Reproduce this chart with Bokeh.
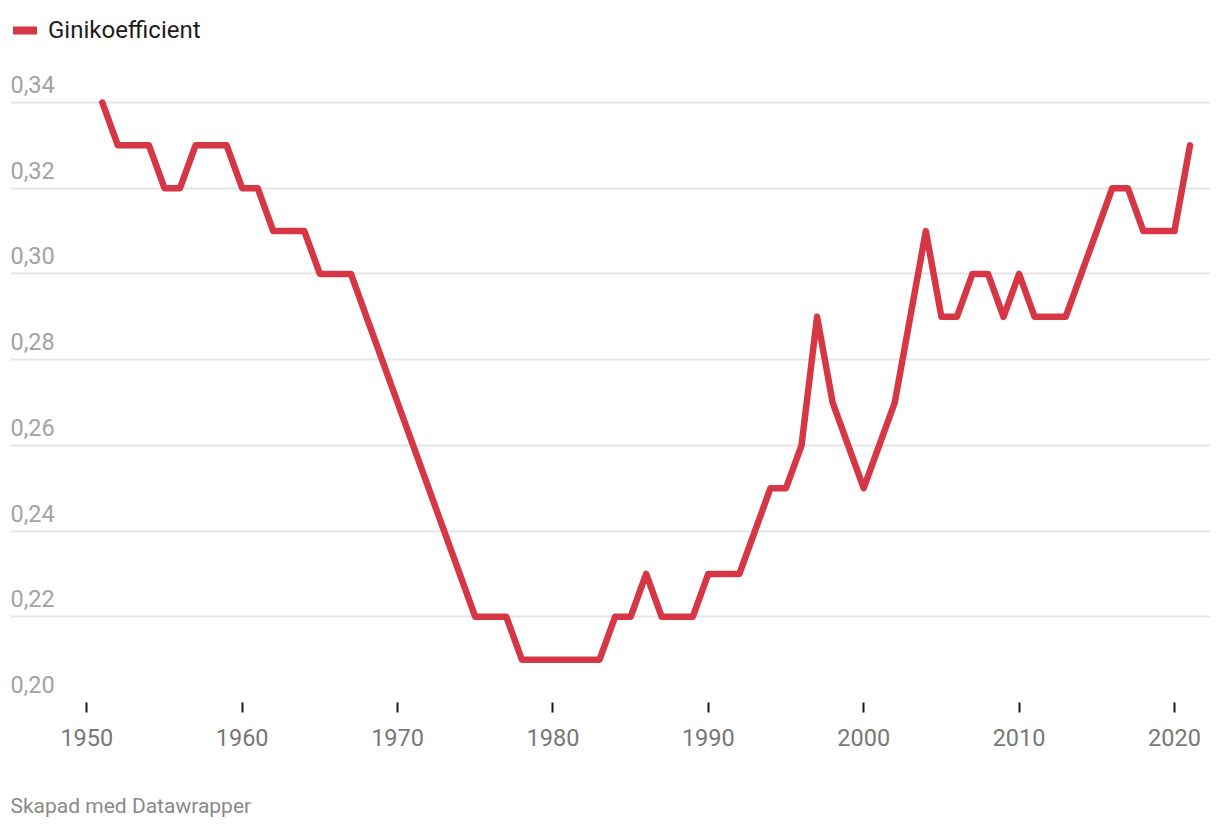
from bokeh.plotting import figure
from bokeh.layouts import column
from bokeh.models import FixedTicker, Legend, LegendItem, ColumnDataSource, Range1d
from bokeh.core.properties import value
from bokeh.embed import file_html
from bokeh.resources import INLINE

years = list(range(1951, 2022))
gini = [0.34, 0.33, 0.33, 0.33, 0.32, 0.32, 0.33, 0.33, 0.33, 0.32,
        0.32, 0.31, 0.31, 0.31, 0.30, 0.30, 0.30, 0.29, 0.28, 0.27,
        0.26, 0.25, 0.24, 0.23, 0.22, 0.22, 0.22, 0.21, 0.21, 0.21,
        0.21, 0.21, 0.21, 0.22, 0.22, 0.23, 0.22, 0.22, 0.22, 0.23,
        0.23, 0.23, 0.24, 0.25, 0.25, 0.26, 0.29, 0.27, 0.26, 0.25,
        0.26, 0.27, 0.29, 0.31, 0.29, 0.29, 0.30, 0.30, 0.29, 0.30,
        0.29, 0.29, 0.29, 0.30, 0.31, 0.32, 0.32, 0.31, 0.31, 0.31,
        0.33]
y_ticks = [0.20, 0.22, 0.24, 0.26, 0.28, 0.30, 0.32, 0.34]
y_tick_labels = ["0,20", "0,22", "0,24", "0,26", "0,28", "0,30", "0,32", "0,34"]
x_ticks = [1950, 1960, 1970, 1980, 1990, 2000, 2010, 2020]
series_name = "Ginikoefficient"
footer = "Skapad med Datawrapper"

RED = "#d73745"
FONT = "Roboto"

x0, x1 = 1945.09, 2022.32
y0, y1 = 0.20, 0.36077
FRAME_H = 689  # px
px_per_unit = FRAME_H / (y1 - y0)

p = figure(width=1212, height=760, output_backend="svg", toolbar_location=None,
           x_range=(x0, x1), y_range=(y0, y1), y_axis_location=None,
           min_border_left=10, min_border_right=2, min_border_top=13,
           min_border_bottom=58)
p.outline_line_color = None
p.background_fill_color = "white"
p.border_fill_color = "white"

# grid
p.xgrid.visible = False
p.ygrid.ticker = FixedTicker(ticks=y_ticks)
p.ygrid.grid_line_color = "#e5e5e5"
p.ygrid.grid_line_width = 2

# x axis
ax = p.xaxis[0]
ax.ticker = FixedTicker(ticks=x_ticks)
ax.axis_line_color = None
ax.major_tick_line_color = "#1a1a1a"
ax.major_tick_line_width = 2
ax.major_tick_out = 10
ax.major_tick_in = 0
ax.minor_tick_line_color = None
ax.major_label_text_font = FONT
ax.major_label_text_font_size = "23.5px"
ax.major_label_text_color = "#777777"
ax.major_label_standoff = 16

# y labels above gridlines
label_y = [t + 18 / px_per_unit for t in y_ticks]
ysrc = ColumnDataSource(dict(x=[x0] * len(y_ticks), y=label_y, t=y_tick_labels))
p.text(x="x", y="y", text="t", source=ysrc, text_font=value(FONT),
       text_font_size="23.5px", text_color="#a3a3a3", text_baseline="alphabetic",
       text_align="left")

# line
r = p.line(years, gini, line_color=RED, line_width=6.5, line_cap="round", line_join="round")
# legend swatch (slightly thicker, as in the reference); no visible data
swatch = p.line([x0], [float("nan")], line_color=RED, line_width=8, line_cap="round")

legend = Legend(items=[LegendItem(label=series_name, renderers=[swatch])], location="top_left",
                margin=3, padding=4, border_line_color=None, background_fill_alpha=0,
                glyph_width=24, glyph_height=26, label_height=26, label_standoff=11,
                label_text_font=FONT, label_text_font_size="24px", label_text_color="#1d1d1d")
p.add_layout(legend)

# footer strip (pixel coordinates, y downward)
f = figure(width=1212, height=60, output_backend="svg", toolbar_location=None,
           x_range=Range1d(0, 1212), y_range=Range1d(60, 0),
           x_axis_location=None, y_axis_location=None,
           min_border_left=0, min_border_right=0, min_border_top=0, min_border_bottom=0)
f.outline_line_color = None
f.grid.visible = False
f.text(x=[0], y=[45], text=[footer], text_font=value(FONT), text_font_size="21px",
       text_color="#8a8a8a", text_baseline="middle", text_align="left")

open("out.html", "w").write(file_html(column(p, f, spacing=0), INLINE))
